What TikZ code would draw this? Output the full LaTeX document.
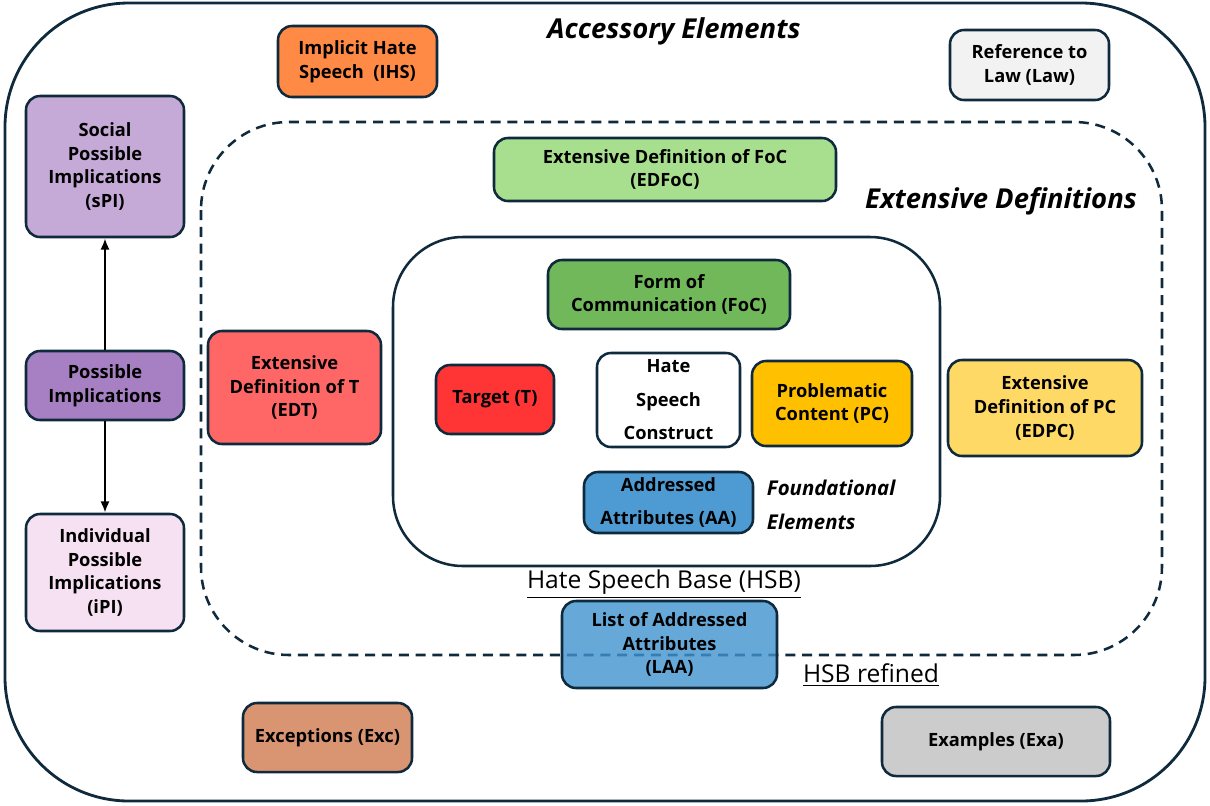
\documentclass[tikz,border=0pt]{standalone}
\usepackage{fontspec}
\setmainfont{Open Sans}
\usetikzlibrary{arrows.meta}
\definecolor{edge}{HTML}{0F2A3C}
\definecolor{cIHS}{HTML}{FF8A45}
\definecolor{cLaw}{HTML}{F2F2F2}
\definecolor{csPI}{HTML}{C5A9D7}
\definecolor{cPI}{HTML}{A680C2}
\definecolor{ciPI}{HTML}{F5E1F1}
\definecolor{cEDFoC}{HTML}{A8DF8E}
\definecolor{cFoC}{HTML}{71B85A}
\definecolor{cT}{HTML}{FF3434}
\definecolor{cPC}{HTML}{FFC000}
\definecolor{cAA}{HTML}{4E9BD4}
\definecolor{cEDT}{HTML}{FF6666}
\definecolor{cEDPC}{HTML}{FFD966}
\definecolor{cLAA}{HTML}{4093D0}
\definecolor{cExc}{HTML}{D99571}
\definecolor{cExa}{HTML}{CCCCCC}
\tikzset{
  box/.style={draw=edge, line width=1.8pt, rounded corners=0.35cm, align=center, inner sep=0pt,
    font=\bfseries\fontsize{13}{16.8}\selectfont},
  title/.style={font=\bfseries\itshape\fontsize{19.5}{22}\selectfont},
  caption/.style={font=\fontsize{17.5}{20}\selectfont}
}
\begin{document}
\begin{tikzpicture}[>={Latex[length=8pt,width=6.5pt]}, x=0.025cm, y=-0.025cm]
    \def\scale{0.025}
    \useasboundingbox (0,0) rectangle (1210,805);
    \draw[edge, line width=2pt, rounded corners=3.1cm] (5,3) rectangle (1205,801);
    \draw[edge, line width=1.8pt, dashed, dash pattern=on 0.25cm off 0.17cm, rounded corners=2.2cm] (201,122) rectangle (1162,655);
    \draw[edge, line width=1.8pt, rounded corners=1.75cm] (393,237) rectangle (940,566);

    \foreach \name/\x/\y/\w/\h/\col/\txt in {
        IHS/357.5/61.5/159/71/cIHS/{Implicit Hate\\Speech~~(IHS)},
        Law/1029.5/65/159/70/cLaw/{Reference to\\Law (Law)},
        sPI/105/166.5/158/141/csPI/{Social\\Possible\\Implications\\(sPI)},
        PI/105/385.5/158/69/cPI/{Possible\\Implications},
        iPI/105/572.5/158/117/ciPI/{Individual\\Possible\\Implications\\(iPI)},
        EDFoC/665/169.5/342/63/cEDFoC/{Extensive Definition of FoC\\(EDFoC)},
        FoC/669/294.5/242/69/cFoC/{Form of\\Communication (FoC)},
        T/495/399.5/118/69/cT/{Target (T)},
        HSC/668.5/400/143/94/white/{Hate\\[7pt]Speech\\[7pt]Construct},
        PC/832/403.5/160/85/cPC/{Problematic\\Content (PC)},
        AA/668.5/502.5/169/61/cAA/{Addressed\\[7pt]Attributes (AA)},
        EDT/294.5/387.5/173/113/cEDT/{Extensive\\Definition of T\\(EDT)},
        EDPC/1045/408/194/96/cEDPC/{Extensive\\Definition of PC\\(EDPC)},
        Exc/327.5/737.5/169/69/cExc/{Exceptions (Exc)},
        Exa/996/741.5/228/69/cExa/{Examples (Exa)}} {
        \node[box, fill=\col, minimum width={\w*\scale*1cm}, minimum height={\h*\scale*1cm}] (\name) at (\x,\y) {\txt};
    }
    \node[box, fill=cLAA, fill opacity=0.8, text opacity=1, minimum width={215*\scale*1cm}, minimum height={87*\scale*1cm}] (LAA) at (669.5,644.5) {List of Addressed\\Attributes\\(LAA)};

    \node[title] (accessory) at (674,31) {Accessory Elements};
    \node[title] (extensive) at (1001,201) {Extensive Definitions};
    \node[title, font=\bfseries\itshape\fontsize{14.5}{24}\selectfont, align=left, anchor=west] (foundational) at (762,505) {Foundational\\Elements};
    \node[caption] (hsb) at (664,584) {\underline{Hate Speech Base (HSB)}};
    \node[caption] (refined) at (871,675) {\underline{HSB refined}};

    \draw[->, line width=1.5pt] (PI) -- (sPI);
    \draw[->, line width=1.5pt] (PI) -- (iPI);
\end{tikzpicture}
\end{document}
